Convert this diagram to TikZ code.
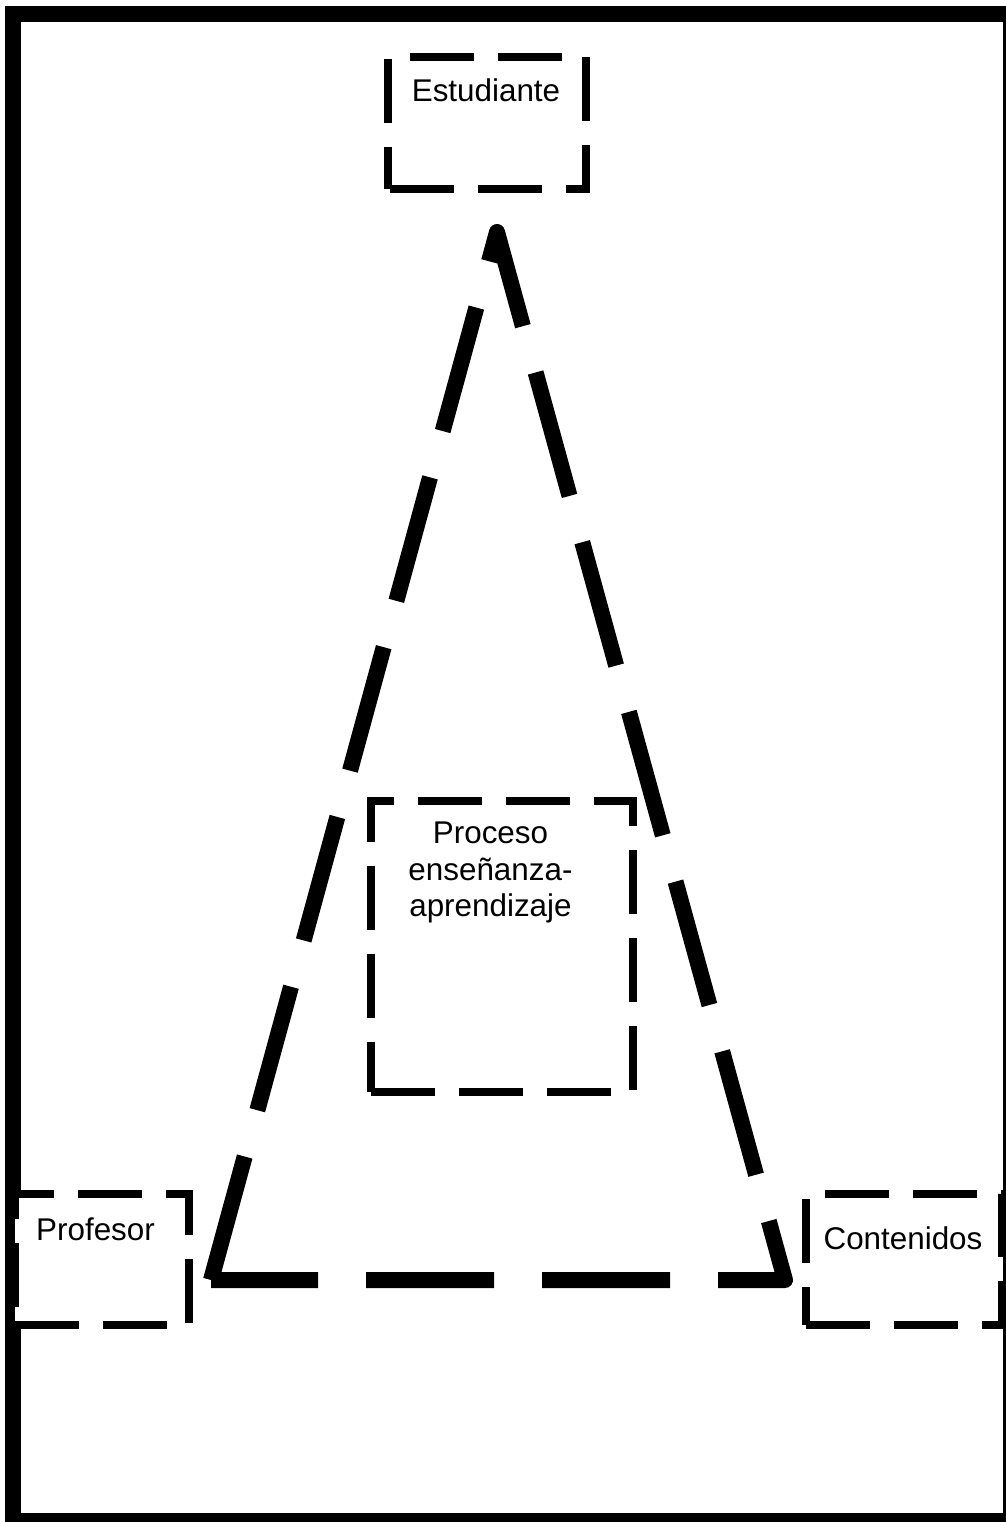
\documentclass[tikz,border=0pt]{standalone}
\usepackage{fontspec}
\setmainfont{Liberation Sans}

\begin{document}
\begin{tikzpicture}[x=0.5pt, y=-0.5pt,
    frame/.style={line width=8pt},
    tri/.style={line width=8pt, line join=round, dash pattern=on 64pt off 24pt},
    dbox/.style={draw, fill=white, line width=3.75pt, dash pattern=on 32pt off 12pt,
      inner sep=0pt, outer sep=0pt},
    lbl/.style={inner sep=0pt, align=center, font=\fontsize{15.7}{18.3}\selectfont}
  ]
    \useasboundingbox (0,0) rectangle (1006,1522);
    \draw[frame] (13,14) rectangle (1011,1521);
    % triangle
    \coordinate (apex) at (497,232);
    \coordinate (cornerL) at (211,1280);
    \coordinate (cornerR) at (785,1280);
    \draw[tri] (cornerL) -- (apex) -- (cornerR) -- (cornerL);
    % boxes
    \node[dbox, dash phase=43pt, minimum width=99pt, minimum height=66pt] (estudiante) at (487,123) {};
    \node[dbox, minimum width=131pt, minimum height=145.5pt] (proceso) at (502,946.5) {};
    \node[dbox, minimum width=87pt, minimum height=65.5pt] (profesor) at (102,1259.5) {};
    \node[dbox, minimum width=98pt, minimum height=65.5pt] (contenidos) at (904,1259.5) {};
    % labels
    \node[lbl, anchor=base] (estudiante-txt) at (486,101) {Estudiante};
    \node[lbl, anchor=north] (proceso-txt) at (490.5,821.5) {Proceso\\enseñanza-\\aprendizaje};
    \node[lbl, anchor=base] (profesor-txt) at (95.5,1240) {Profesor};
    \node[lbl, anchor=base] (contenidos-txt) at (903,1249) {Contenidos};
\end{tikzpicture}
\end{document}
